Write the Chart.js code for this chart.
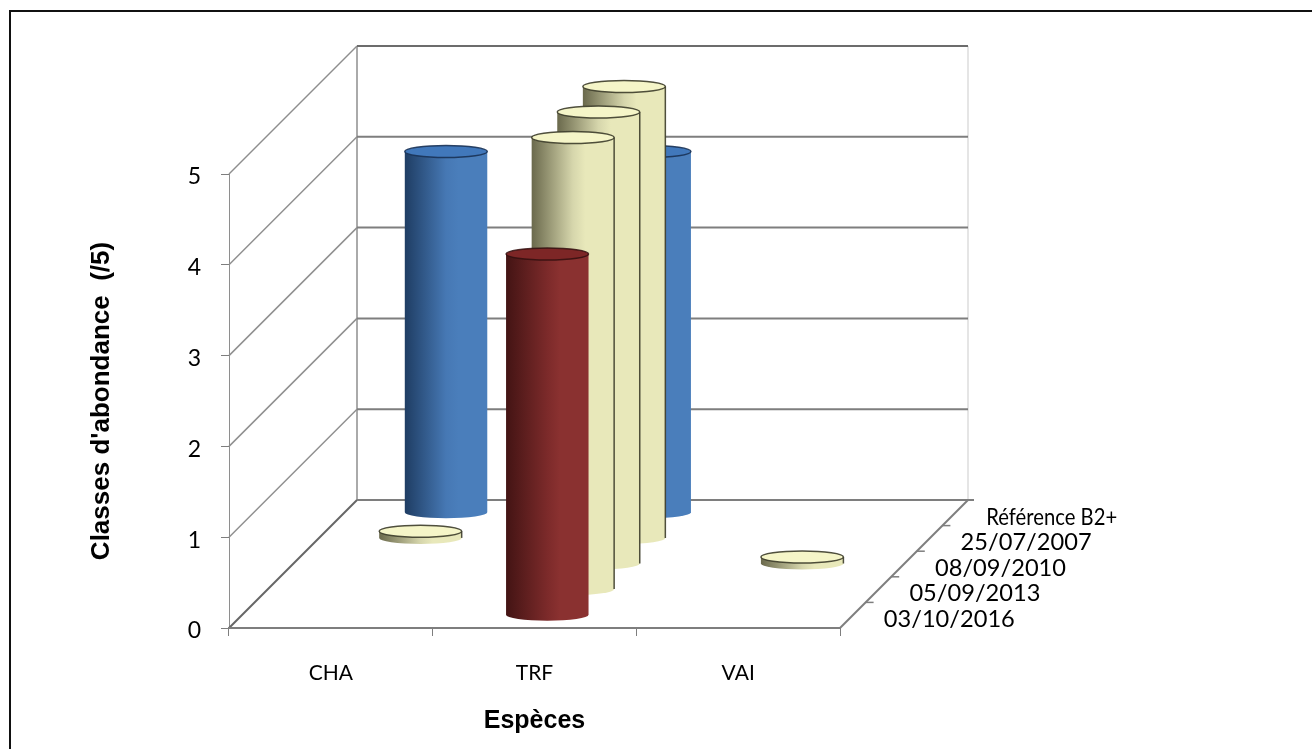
<!DOCTYPE html>
<html>
<head>
<meta charset="utf-8">
<title>Classes d'abondance</title>
<script src="https://cdn.jsdelivr.net/npm/chart.js@4"></script>
<style>
  html, body { margin: 0; padding: 0; background: #fff; overflow: hidden; }
  #cadre { position: absolute; left: 9px; top: 10px; right: 0; bottom: 0; border-left: 2px solid #111; border-top: 2px solid #111; }
  canvas { display: block; position: absolute; left: 0; top: 0; filter: blur(0.7px); }
</style>
</head>
<body>
<canvas id="chart" width="1312" height="749"></canvas>
<div id="cadre"></div>
<script>
// Données
const especes = ['CHA', 'TRF', 'VAI'];
const dates = ['03/10/2016', '05/09/2013', '08/09/2010', '25/07/2007', 'Référence B2+'];
const valeurs2016 = [null, 4, null];
const valeurs2013 = [null, 5, null];
const valeurs2010 = [null, 5, 0.1];
const valeurs2007 = [0.1, 5, null];
const valeursRef = [4, 4, null];
const ticksY = [0, 1, 2, 3, 4, 5];

// Styles des cylindres : sombre, milieu, clair, dessus, contour
const CREME = { dark: '#6a694c', mid: '#d6d6ac', light: '#e8e8ba', top: '#f5f5c8', line: 'rgba(60,60,42,.9)', sides: true };
const STYLES = [
  { dark: '#431414', mid: '#7c2a2a', light: '#8a3130', top: '#7d2626', line: 'rgba(50,15,15,.85)', sides: false },
  CREME,
  CREME,
  CREME,
  { dark: '#1f3d63', mid: '#4678b4', light: '#4a7ebb', top: '#4178bb', line: 'rgba(25,50,85,.9)', sides: false }
];

const DEPTH = 128;          // profondeur du plancher en pixels
const STEP = DEPTH / dates.length;
const RY = 6;               // demi-hauteur des ellipses
const TOP_INSET = 2;        // le dessus du cylindre est un peu sous la valeur
const GRID = '#7e7e7e';
const LABEL_MAX = 131;      // largeur des libellés de profondeur

function drawCylinder(ctx, cx, base, top, rx, st) {
  const grad = ctx.createLinearGradient(cx - rx, 0, cx + rx, 0);
  grad.addColorStop(0, st.dark);
  grad.addColorStop(0.5, st.mid);
  grad.addColorStop(0.65, st.light);
  grad.addColorStop(1, st.light);

  ctx.beginPath();
  ctx.moveTo(cx - rx, top);
  ctx.lineTo(cx - rx, base);
  ctx.ellipse(cx, base, rx, RY, 0, Math.PI, 0, true);
  ctx.lineTo(cx + rx, top);
  ctx.closePath();
  ctx.fillStyle = grad;
  ctx.fill();

  if (st.sides) {
    ctx.strokeStyle = st.line;
    ctx.lineWidth = 1.5;
    ctx.beginPath();
    ctx.moveTo(cx + rx, top);
    ctx.lineTo(cx + rx, base);
    ctx.stroke();
  }

  ctx.beginPath();
  ctx.ellipse(cx, top, rx, RY, 0, 0, Math.PI * 2);
  ctx.fillStyle = st.top;
  ctx.fill();
  ctx.strokeStyle = st.line;
  ctx.lineWidth = 1.5;
  ctx.stroke();
}

// Contrôleur : une barre dessinée en cylindre, décalée selon sa série
class CylinderController extends Chart.BarController {
  draw() {
    const ctx = this.chart.ctx;
    const shift = (this.index + 0.5) * STEP;
    const st = STYLES[this.index];
    this.getMeta().data.forEach((bar, i) => {
      const v = this.getDataset().data[i];
      if (v === null) return;
      drawCylinder(ctx, bar.x + shift, bar.base - shift, bar.y - shift + TOP_INSET, bar.width / 2, st);
    });
  }
}
CylinderController.id = 'cylinder';
CylinderController.defaults = Chart.BarController.defaults;
CylinderController.overrides = Chart.BarController.overrides;
Chart.register(CylinderController);

// Parois du fond et axe de profondeur
const walls = {
  id: 'walls',
  beforeDraw(chart) {
    const ctx = chart.ctx;
    ctx.save();
    ctx.fillStyle = '#fff';
    ctx.fillRect(0, 0, chart.width, chart.height);
    ctx.restore();
  },
  beforeDatasetsDraw(chart) {
    const { ctx, scales: { x, y } } = chart;
    const line = (x0, y0, x1, y1, color, w) => {
      ctx.strokeStyle = color;
      ctx.lineWidth = w;
      ctx.beginPath();
      ctx.moveTo(x0, y0);
      ctx.lineTo(x1, y1);
      ctx.stroke();
    };
    ctx.save();
    const y0 = y.getPixelForValue(0);
    const y5 = y.getPixelForValue(5);
    line(x.right + DEPTH, y5 - DEPTH, x.right + DEPTH, y0 - DEPTH, '#dcdcdc', 1.5);
    line(x.left + DEPTH, y5 - DEPTH, x.left + DEPTH, y0 - DEPTH, '#8e8e8e', 1.5);
    ticksY.forEach(t => {
      const py = y.getPixelForValue(t);
      line(x.left, py, x.left + DEPTH, py - DEPTH, t === 0 ? '#666' : '#8e8e8e', t === 0 ? 2 : 1.5);
      line(x.left + DEPTH, py - DEPTH, x.right + DEPTH + (t === 0 ? 6 : 0), py - DEPTH, t === 5 ? '#6c6c6c' : GRID, 2);
    });
    line(x.right, y0, x.right + DEPTH, y0 - DEPTH, GRID, 2);
    line(x.left - 1, y0, x.right, y0, GRID, 2);

    dates.forEach((d, i) => {
      const s = (i + 1) * STEP;
      if (i < dates.length - 1) line(x.right + s, y0 - s, x.right + s + 8, y0 - s, GRID, 1.5);
      const c = (i + 0.5) * STEP;
      ctx.fillStyle = '#000';
      ctx.font = '24px Lato';
      ctx.textAlign = 'left';
      ctx.textBaseline = 'middle';
      ctx.fillText(d, x.right + c + 31, y0 - c + 4, LABEL_MAX);
    });
    ctx.restore();
  }
};

const datasets = [valeurs2016, valeurs2013, valeurs2010, valeurs2007, valeursRef].map((data, i) => ({
  label: dates[i],
  data: data,
  grouped: false,
  clip: false,
  categoryPercentage: 1,
  barPercentage: 0.405,
  backgroundColor: STYLES[i].light
}));

new Chart(document.getElementById('chart'), {
  type: 'cylinder',
  data: { labels: especes, datasets: datasets },
  plugins: [walls],
  options: {
    responsive: false,
    animation: false,
    layout: { padding: { left: 84, right: 472, top: 174, bottom: 10 } },
    plugins: { legend: { display: false }, title: { display: false }, tooltip: { enabled: false } },
    scales: {
      x: {
        type: 'category',
        afterFit: scale => { scale.height = 111; },
        grid: { drawOnChartArea: false, tickLength: 8, color: GRID, offset: true },
        border: { color: GRID, width: 1 },
        ticks: { color: '#000', font: { family: 'Lato', size: 21 }, padding: 25, maxRotation: 0 },
        title: {
          display: true,
          text: 'Espèces',
          color: '#000',
          font: { family: 'Liberation Sans', size: 25, weight: 'bold' },
          padding: { top: 4, bottom: 3 }
        }
      },
      y: {
        type: 'linear',
        min: 0,
        max: 5,
        afterFit: scale => { scale.width = 145; },
        grid: { drawOnChartArea: false, tickLength: 8, color: GRID },
        border: { color: '#8e8e8e', width: 1 },
        ticks: { stepSize: 1, color: '#000', font: { family: 'Lato', size: 23 }, padding: 20, labelOffset: 3 },
        title: {
          display: true,
          text: "Classes d'abondance  (/5)",
          color: '#000',
          font: { family: 'Liberation Sans', size: 26, weight: 'bold' },
          padding: { top: 2, bottom: 4 }
        }
      }
    }
  }
});
</script>
</body>
</html>
